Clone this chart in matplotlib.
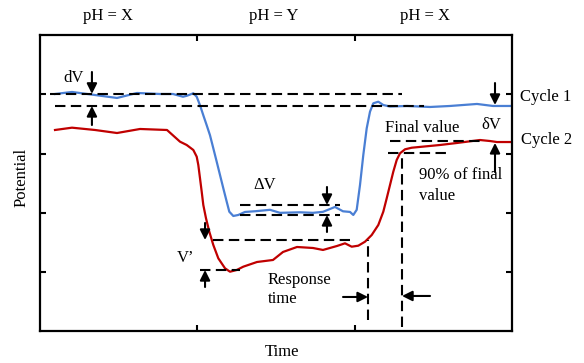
import numpy as np
from matplotlib import pyplot as plt

plt.rcParams['font.family'] = ['Liberation Serif', 'DejaVu Serif']
plt.rcParams['font.size'] = 12

# cycle 1 (blue) - time, potential
t1 = [9.53, 20.34, 34.96, 48.94, 61.65, 76.27, 84.53, 90.89, 93.43, 97.44, 99.60,
      101.70, 103.80, 105.95, 108.05, 110.15, 112.31, 114.41, 116.51, 118.67,
      120.32, 122.86, 126.04, 130.30, 137.29, 146.19, 152.55, 165.26, 173.52,
      179.87, 187.50, 192.59, 197.04, 199.13, 201.29, 203.39, 205.49, 207.65,
      209.75, 211.85, 215.03, 218.20, 222.46, 233.27, 247.88, 260.60, 277.76,
      287.93, 300.0]
v1 = [400.5, 403.9, 398.8, 393.8, 402.2, 400.5, 400.5, 395.9, 397.6, 401.7, 395.9,
      381.5, 364.6, 347.8, 330.9, 309.0, 286.3, 263.9, 241.5, 218.9, 202.0, 194.8,
      196.5, 201.6, 202.9, 205.2, 200.1, 201.0, 200.1, 201.8, 210.0, 202.7, 201.6,
      196.5, 205.2, 247.0, 297.6, 342.6, 370.7, 384.8, 387.5, 381.9, 379.4, 380.3,
      378.6, 380.3, 383.7, 380.3, 380.3]

# cycle 2 (red)
t2 = [9.53, 20.34, 34.96, 48.94, 63.56, 80.72, 88.98, 93.24, 97.44, 99.60, 100.62,
      101.70, 102.78, 103.80, 105.51, 107.61, 110.15, 113.33, 117.59, 120.76,
      125.02, 129.22, 137.93, 148.09, 154.45, 163.35, 173.52, 179.87, 188.77,
      193.86, 198.12, 202.31, 206.57, 210.83, 215.03, 218.20, 220.37, 222.46,
      224.56, 226.72, 228.82, 231.99, 236.25, 254.22, 265.03, 279.66, 286.02,
      290.47, 300.0]
v2 = [339.8, 343.7, 339.8, 334.7, 341.5, 339.8, 320.1, 314.5, 306.1, 294.8, 280.8,
      258.3, 235.7, 213.3, 190.9, 168.3, 145.9, 123.4, 106.6, 100.8, 103.7, 109.3,
      117.2, 120.6, 134.1, 142.5, 140.8, 137.5, 144.2, 148.7, 143.0, 144.7, 151.4,
      162.7, 179.6, 202.0, 224.6, 247.0, 269.5, 289.2, 300.5, 307.2, 309.9, 314.5,
      317.9, 322.9, 321.2, 319.5, 319.5]

# dashed guide lines: (y, x start, x end)
hlines = [(400.7, 6.4, 230.0), (380.3, 9.5, 244.0),
          (213.3, 127.1, 190.7), (196.5, 127.1, 190.7),
          (154.3, 110.0, 197.0), (103.7, 101.7, 127.1),
          (321.2, 222.5, 281.6), (300.2, 221.2, 260.6)]
# (x, y bottom, y top)
vlines = [(208.5, 19.0, 154.3), (230.1, 7.6, 300.2)]

# arrows: (tail x, tail y, tip x, tip y)
arrows = [(33.0, 437.6, 33.0, 400.7), (33.0, 348.2, 33.0, 380.3),
          (182.4, 243.7, 182.4, 213.3), (182.4, 167.8, 182.4, 196.5),
          (104.9, 183.0, 104.9, 154.3), (104.9, 75.0, 104.9, 103.7),
          (289.2, 419.0, 289.2, 382.0), (289.2, 269.0, 289.2, 318.0),
          (192.6, 58.2, 208.5, 58.2), (247.9, 59.9, 230.1, 59.9)]

fig = plt.figure(figsize=(5.84, 3.63), dpi=100)
ax = fig.add_axes([0.0685, 0.0868, 0.8082, 0.8168])

ax.plot(t1, v1, color='#4a7fd4', lw=1.6, solid_joinstyle='round')
ax.plot(t2, v2, color='#c00000', lw=1.6, solid_joinstyle='round')

for y, xa, xb in hlines:
    ax.plot([xa, xb], [y, y], color='k', lw=1.5, dashes=(5, 2.6))
for x, ya, yb in vlines:
    ax.plot([x, x], [ya, yb], color='k', lw=1.5, dashes=(5, 2.6))

for xa, ya, xb, yb in arrows:
    ax.annotate('', xy=(xb, yb), xytext=(xa, ya),
                arrowprops=dict(arrowstyle='-|>,head_length=0.6,head_width=0.3',
                                color='k', lw=1.5, mutation_scale=10,
                                shrinkA=0, shrinkB=0))

ax.text(21.6, 427.5, 'dV', ha='center', va='center')
ax.text(143.0, 247.0, 'ΔV', ha='center', va='center')
ax.text(92.8, 124.4, 'V’', ha='center', va='center')
ax.text(286.7, 348.0, 'δV', ha='center', va='center')
ax.text(219.3, 342.7, 'Final value', ha='left', va='center')
ax.text(240.9, 264.0, '90% of final', ha='left', va='center')
ax.text(240.9, 228.5, 'value', ha='left', va='center')
ax.text(144.9, 86.8, 'Response', ha='left', va='center')
ax.text(144.9, 54.8, 'time', ha='left', va='center')
ax.text(305.0, 395.5, 'Cycle 1', ha='left', va='center', clip_on=False)
ax.text(305.6, 323.0, 'Cycle 2', ha='left', va='center', clip_on=False)

ax.text(43.2, 532, 'pH = X', ha='center', va='center', clip_on=False)
ax.text(148.7, 532, 'pH = Y', ha='center', va='center', clip_on=False)
ax.text(244.7, 532, 'pH = X', ha='center', va='center', clip_on=False)

ax.set_xlim(0, 300)
ax.set_ylim(0, 500)
ax.set_xticks([100, 200])
ax.set_yticks([100, 200, 300, 400])
ax.set_xticklabels([])
ax.set_yticklabels([])
ax.tick_params(direction='in', length=4, width=1.5, top=True, right=True)
for s in ax.spines.values():
    s.set_linewidth(1.6)

fig.text(0.483, 0.03, 'Time', ha='center', va='center')
fig.text(0.037, 0.51, 'Potential', ha='center', va='center', rotation=90)

fig.savefig('out.png', dpi=100)
